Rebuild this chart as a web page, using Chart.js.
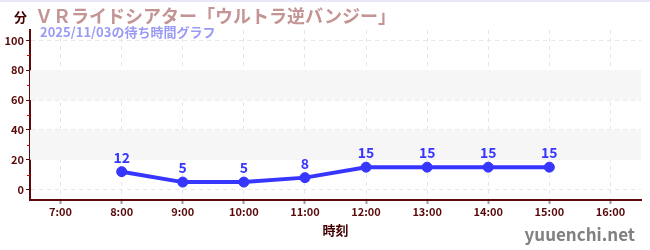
<!DOCTYPE html>
<html>
<head>
<meta charset="utf-8">
<script src="https://cdn.jsdelivr.net/npm/chart.js@4"></script>
<style>
    html, body { margin: 0; padding: 0; background: #fff; }
    #wrap { position: relative; width: 650px; height: 250px; overflow: hidden; font-family: "Noto Sans CJK JP", "Noto Sans", sans-serif; }
    #topline { position: absolute; left: 0; top: 0; width: 650px; height: 2px; background: #e8e8fa; }
    #myChart { position: absolute; left: 0; top: 0; }
    .txt { position: absolute; white-space: nowrap; font-weight: bold; }
    #title { left: 35px; top: 2px; font-size: 18px; color: #c49494; }
    #sub { left: 40px; top: 22px; font-size: 13px; color: #9a9af5; }
    #unit { left: 14px; top: 7px; font-size: 13px; color: #440000; }
    #site { right: 15px; top: 221px; font-size: 17px; color: #808080; }
</style>
</head>
<body>
<div id="wrap">
    <canvas id="myChart" width="650" height="250"></canvas>
    <div id="topline"></div>
    <div class="txt" id="unit">分</div>
    <div class="txt" id="title">ＶＲライドシアター「ウルトラ逆バンジー」</div>
    <div class="txt" id="sub">2025/11/03の待ち時間グラフ</div>
    <div class="txt" id="site">yuuenchi.net</div>
</div>
<script>
// データ（時刻と待ち時間）
const hours = [8, 9, 10, 11, 12, 13, 14, 15];
const waitMinutes = [12, 5, 5, 8, 15, 15, 15, 15];
const xTickHours = [7, 8, 9, 10, 11, 12, 13, 14, 15, 16];
const yTickValues = [0, 20, 40, 60, 80, 100];
const yMinorValues = [10, 30, 50, 70, 90];
const bandRanges = [[20, 40], [60, 80]];

const lineColor = '#3636ff';
const axisColor = '#5a0a0a';

// 背景の帯と補助目盛り
const bandsPlugin = {
    id: 'bands',
    beforeDatasetsDraw(chart) {
        const { ctx, chartArea, scales: { y } } = chart;
        ctx.save();
        ctx.fillStyle = '#f6f6f6';
        bandRanges.forEach(([a, b]) => {
            const top = y.getPixelForValue(b);
            const bottom = y.getPixelForValue(a);
            ctx.fillRect(chartArea.left, top, chartArea.right - chartArea.left, bottom - top);
        });
        ctx.restore();
    },
    afterDraw(chart) {
        const { ctx, chartArea, scales: { y } } = chart;
        ctx.save();
        ctx.strokeStyle = '#dd0000';
        ctx.lineWidth = 1;
        yMinorValues.forEach(v => {
            const py = Math.round(y.getPixelForValue(v)) + 0.5;
            ctx.beginPath();
            ctx.moveTo(chartArea.left - 3, py);
            ctx.lineTo(chartArea.left, py);
            ctx.stroke();
        });
        ctx.restore();
    }
};

// 点の上に値を表示
const labelsPlugin = {
    id: 'pointLabels',
    afterDatasetsDraw(chart) {
        const { ctx } = chart;
        const meta = chart.getDatasetMeta(0);
        ctx.save();
        ctx.fillStyle = lineColor;
        ctx.font = 'bold 14px "Noto Sans CJK JP", "Noto Sans", sans-serif';
        ctx.textAlign = 'center';
        ctx.textBaseline = 'alphabetic';
        meta.data.forEach((pt, i) => {
            ctx.fillText(String(waitMinutes[i]), pt.x, pt.y - 9);
        });
        ctx.restore();
    }
};

const tickFont = { family: '"Noto Sans CJK JP", "Noto Sans", sans-serif', size: 11, weight: 'bold' };

new Chart(document.getElementById('myChart').getContext('2d'), {
    type: 'line',
    data: {
        datasets: [{
            data: hours.map((h, i) => ({ x: h, y: waitMinutes[i] })),
            borderColor: lineColor,
            backgroundColor: lineColor,
            borderWidth: 4,
            pointRadius: 5,
            pointHoverRadius: 5,
            pointBorderWidth: 1,
            tension: 0
        }]
    },
    options: {
        responsive: false,
        animation: false,
        layout: { padding: { top: 30, right: 9, left: 0, bottom: 0 } },
        plugins: {
            legend: { display: false },
            tooltip: { enabled: false }
        },
        scales: {
            x: {
                type: 'linear',
                min: 6.5,
                max: 16.5,
                afterBuildTicks: s => { s.ticks = xTickHours.map(v => ({ value: v })); },
                afterFit: s => { s.height = 50; },
                ticks: {
                    callback: v => v + ':00',
                    color: axisColor,
                    font: tickFont,
                    padding: 1,
                    maxRotation: 0
                },
                grid: {
                    color: '#e6e6e6',
                    tickBorderDash: [],
                    tickColor: '#999999',
                    tickLength: 4,
                    tickWidth: 2
                },
                border: { color: axisColor, width: 2, dash: [4, 4] },
                title: {
                    display: true,
                    text: '時刻',
                    color: '#440000',
                    font: { family: '"Noto Sans CJK JP", sans-serif', size: 13, weight: 'bold' },
                    padding: { top: 0, bottom: 12 }
                }
            },
            y: {
                min: -7,
                max: 107,
                afterBuildTicks: s => { s.ticks = yTickValues.map(v => ({ value: v })); },
                afterFit: s => { s.width = 30; },
                ticks: {
                    color: axisColor,
                    font: tickFont,
                    padding: 2
                },
                grid: {
                    color: '#e6e6e6',
                    tickBorderDash: [],
                    tickColor: axisColor,
                    tickLength: 4
                },
                border: { color: axisColor, width: 2, dash: [4, 4] }
            }
        }
    },
    plugins: [bandsPlugin, labelsPlugin]
});
</script>
</body>
</html>
